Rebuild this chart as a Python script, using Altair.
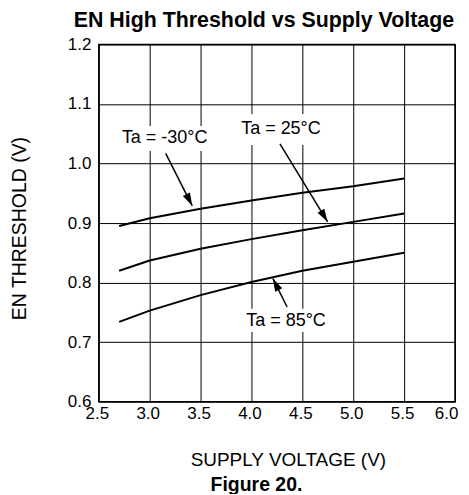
import altair as alt
import pandas as pd

# ---- data ----
voltage = [2.7, 3.0, 3.5, 4.0, 4.5, 5.0, 5.5]
th_m30 = [0.895, 0.908, 0.924, 0.938, 0.951, 0.962, 0.975]
th_25 = [0.820, 0.837, 0.857, 0.873, 0.888, 0.902, 0.916]
th_85 = [0.734, 0.753, 0.779, 0.801, 0.820, 0.835, 0.850]
series_names = ["Ta = -30°C", "Ta = 25°C", "Ta = 85°C"]

x_ticks = [2.5, 3.0, 3.5, 4.0, 4.5, 5.0, 5.5, 6.0]
y_ticks = [0.6, 0.7, 0.8, 0.9, 1.0, 1.1, 1.2]

# annotation labels (text centre) and arrows (start -> tip)
label_x = [3.147, 4.29, 4.34]
label_y = [1.043, 1.058, 0.736]
box_x1 = [2.72, 3.86, 3.93]
box_x2 = [3.60, 4.72, 4.76]
box_y1 = [1.021, 1.031, 0.717]
box_y2 = [1.063, 1.083, 0.756]
arrow_x1 = [3.157, 4.28, 4.35]
arrow_y1 = [1.017, 1.033, 0.759]
arrow_x2 = [3.418, 4.748, 4.21]
arrow_y2 = [0.929, 0.902, 0.807]
arrow_angle = [153, 149, 333]

FONT = "Liberation Sans"

rows = []
for name, vals in zip(series_names, [th_m30, th_25, th_85]):
    for v, t in zip(voltage, vals):
        rows.append({"series": name, "v": v, "t": t})
df = pd.DataFrame(rows)

ann = pd.DataFrame({
    "label": series_names,
    "lx": label_x, "ly": label_y,
    "bx1": box_x1, "bx2": box_x2, "by1": box_y1, "by2": box_y2,
    "ax1": arrow_x1, "ay1": arrow_y1, "ax2": arrow_x2, "ay2": arrow_y2,
    "ang": arrow_angle,
})

xscale = alt.Scale(domain=[2.5, 6.0], nice=False, zero=False)
yscale = alt.Scale(domain=[0.6, 1.2], nice=False, zero=False)

xaxis = alt.Axis(values=x_ticks, format=".1f", title="SUPPLY VOLTAGE (V)",
                 titleX=189.5, titleY=58, titleBaseline="middle", titleAlign="center",
                 titleFontSize=19,
                 labelPadding=4, tickSize=0, domain=False, labelFlush=False,
                 labelOffset={"condition": {"test": "datum.value == 6", "value": -9}, "value": -2})
yaxis = alt.Axis(values=y_ticks, format=".1f", title="EN THRESHOLD (V)",
                 titleX=-79, titleY=184, titleBaseline="middle", titleAlign="center",
                 titleFontSize=19.5,
                 labelPadding=8, tickSize=0, domain=False, labelFlush=False)

lines = alt.Chart(df).mark_line(color="black", strokeWidth=2).encode(
    x=alt.X("v:Q", scale=xscale, axis=xaxis),
    y=alt.Y("t:Q", scale=yscale, axis=yaxis),
    detail="series:N",
)

boxes = alt.Chart(ann).mark_rect(color="white").encode(
    x="bx1:Q", x2="bx2:Q", y="by1:Q", y2="by2:Q"
)

texts = alt.Chart(ann).mark_text(font=FONT, fontSize=18, color="black",
                                  align="center", baseline="middle").encode(
    x="lx:Q", y="ly:Q", text="label:N"
)

arrows = alt.Chart(ann).mark_rule(color="black", strokeWidth=1.5).encode(
    x="ax1:Q", y="ay1:Q", x2="ax2:Q", y2="ay2:Q"
)

heads = alt.Chart(ann).mark_point(
    shape="M0,0L0.8,2.6L-0.8,2.6Z", filled=True, color="black", opacity=1, size=100
).encode(x="ax2:Q", y="ay2:Q", angle=alt.Angle("ang:Q", scale=None))

caption = alt.Chart(pd.DataFrame({"c": ["Figure 20."]})).mark_text(
    font=FONT, fontSize=19.5, fontWeight="bold", color="black",
    align="center", baseline="middle"
).encode(x=alt.value(158), y=alt.value(442), text="c:N")

chart = alt.layer(lines, boxes, texts, arrows, heads, caption).properties(
    width=357, height=358,
    title=alt.TitleParams("EN High Threshold vs Supply Voltage", font=FONT, fontSize=21.4,
                          fontWeight="bold", color="black", anchor="middle", dx=-13,
                          baseline="bottom", offset=4, dy=21),
    autosize=alt.AutoSizeParams(type="none"),
    padding={"left": 91, "top": 36, "right": 6, "bottom": 92},
).configure_axis(
    labelFont=FONT, labelFontSize=17, labelColor="black",
    titleFont=FONT, titleFontWeight="normal", titleColor="black",
    gridColor="black", gridOpacity=1, gridWidth=1,
).configure_view(stroke="black", strokeWidth=1.5)

chart.save("out.html", embed_options={"renderer": "svg", "actions": False})
